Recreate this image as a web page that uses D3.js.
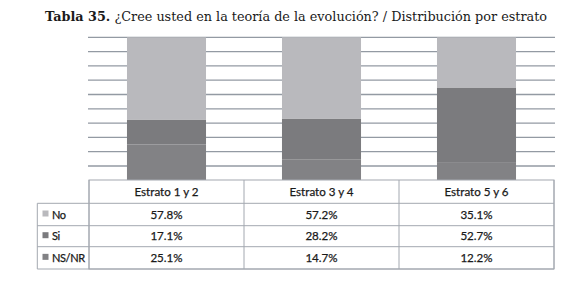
<!DOCTYPE html>
<html><head><meta charset="utf-8">
<script src="https://cdn.jsdelivr.net/npm/d3@7"></script>
<style>body{margin:0;background:#fff}svg{display:block}</style>
</head><body>
<script>
const categories = ["Estrato 1 y 2","Estrato 3 y 4","Estrato 5 y 6"];
const seriesNames = ["No","Si","NS/NR"];
const noValues = [57.8,57.2,35.1];
const siValues = [17.1,28.2,52.7];
const nsnrValues = [25.1,14.7,12.2];
const yTicks = [10,20,30,40,50,60,70,80,90,100];

const colors = {"No":"#b9b9bd","Si":"#7b7b7e","NS/NR":"#828285"};
const W=580,H=294;
const svg = d3.select("body").append("svg").attr("width",W).attr("height",H);

// title
const title = svg.append("text").attr("x",296).attr("y",21).attr("text-anchor","middle")
  .attr("font-family","DejaVu Serif").attr("font-size",12).attr("fill","#1a1a1a");
title.append("tspan").attr("font-weight","bold").text("Tabla 35.");
title.append("tspan").text(" ¿Cree usted en la teoría de la evolución? / Distribución por estrato");
const tl = title.node().getComputedTextLength();
title.attr("font-size", 12*503/tl);

const rows = seriesNames.map((s,i)=>({name:s, values:[noValues,siValues,nsnrValues][i]}));
const table = categories.map((c,j)=>({cat:c, "No":noValues[j], "Si":siValues[j], "NS/NR":nsnrValues[j]}));

const x = d3.scaleBand().domain(categories).range([89,554]).paddingInner(0.49).paddingOuter(0.245);
const y = d3.scaleLinear().domain([0,100]).range([180.3,37.3]);

// gridlines
svg.append("g").selectAll("line").data(yTicks).join("line")
  .attr("x1",88).attr("x2",555).attr("y1",d=>y(d)).attr("y2",d=>y(d))
  .attr("stroke","#939aa3").attr("stroke-width",1.3);

const stack = d3.stack().keys(["NS/NR","Si","No"])(table);
svg.append("g").selectAll("g").data(stack).join("g").attr("fill",d=>colors[d.key])
  .selectAll("rect").data(d=>d).join("rect")
  .attr("x",d=>x(d.data.cat)).attr("width",x.bandwidth())
  .attr("y",d=>y(d[1])).attr("height",d=>y(d[0])-y(d[1]));

// table
const colX = [37.3, 89, 244, 399, 554];
const rowY = [180, 203.3, 225.7, 246.7, 269];
const lineC = "#a3a8b0";
const tg = svg.append("g").attr("stroke",lineC).attr("stroke-width",1);
tg.append("rect").attr("x",89).attr("y",rowY[0]).attr("width",554-89).attr("height",rowY[4]-rowY[0]).attr("fill","#fff");
[1,2,3,4].forEach(i=>tg.append("line").attr("x1",colX[0]).attr("x2",colX[4]).attr("y1",rowY[i]).attr("y2",rowY[i]));
tg.append("line").attr("x1",colX[0]).attr("x2",colX[0]).attr("y1",rowY[1]).attr("y2",rowY[4]);
[1,2,3,4].forEach(i=>tg.append("line").attr("x1",colX[i]).attr("x2",colX[i]).attr("y1",rowY[0]).attr("y2",rowY[4]));

const font = "Lato", fs=11.6;
svg.append("g").selectAll("text").data(categories).join("text")
  .attr("x",d=>x(d)+x.bandwidth()/2).attr("y",(rowY[0]+rowY[1])/2+4)
  .attr("text-anchor","middle").attr("font-family",font).attr("font-size",fs).attr("fill","#1a1a1a")
  .attr("stroke","#1a1a1a").attr("stroke-width",0.25).text(d=>d);

rows.forEach((r,i)=>{
  const cy=(rowY[i+1]+rowY[i+2])/2;
  svg.append("rect").attr("x",42.5).attr("y",cy-4).attr("width",6).attr("height",6).attr("fill",colors[r.name]);
  svg.append("text").attr("x",52).attr("y",cy+4).attr("font-family",font).attr("font-size",11).attr("letter-spacing",-0.4).attr("fill","#1a1a1a")
    .attr("stroke","#1a1a1a").attr("stroke-width",0.25).text(r.name);
  svg.append("g").selectAll("text").data(r.values).join("text")
    .attr("x",(d,j)=>x(categories[j])+x.bandwidth()/2).attr("y",cy+4)
    .attr("text-anchor","middle").attr("font-family",font).attr("font-size",fs).attr("fill","#1a1a1a")
    .attr("stroke","#1a1a1a").attr("stroke-width",0.25)
    .text(d=>d.toFixed(1)+"%");
});
</script>
</body></html>
